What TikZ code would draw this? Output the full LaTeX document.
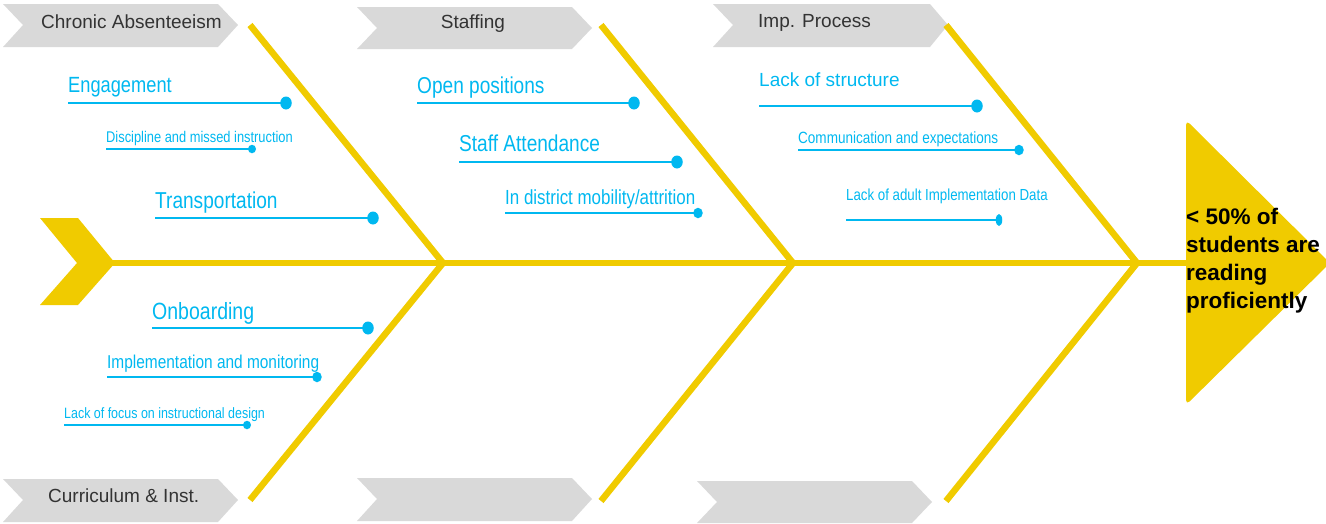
\documentclass[tikz,border=0pt]{standalone}
\usepackage{fontspec}
\setmainfont{Liberation Sans}
\newfontfamily\narrowfont{Liberation Sans}[FakeStretch=0.83]
\usetikzlibrary{shapes.geometric}

\definecolor{fishyellow}{RGB}{240,203,0}
\definecolor{boxgray}{RGB}{217,217,217}
\definecolor{labelgray}{RGB}{51,51,51}
\definecolor{causeblue}{RGB}{0,184,240}

\tikzset{
  bone/.style={draw=fishyellow, line width=6.5pt},
  catbox/.style={fill=boxgray},
  cattext/.style={text=labelgray, inner sep=0pt, font=\fontsize{19}{22}\selectfont},
  causetext/.style={text=causeblue, inner sep=0pt, anchor=base west},
  causeline/.style={draw=causeblue, line width=1.8pt},
  bigdot/.style={ellipse, fill=causeblue, inner sep=0pt, minimum width=11.5pt, minimum height=13pt},
  middot/.style={ellipse, fill=causeblue, inner sep=0pt, minimum width=9.5pt, minimum height=10.5pt},
  smalldot/.style={ellipse, fill=causeblue, inner sep=0pt, minimum width=8pt, minimum height=8.5pt},
  slimdot/.style={ellipse, fill=causeblue, inner sep=0pt, minimum width=6.5pt, minimum height=12pt},
}

\begin{document}
\begin{tikzpicture}[x=1pt,y=-1pt]
\useasboundingbox (0,0) rectangle (1326,523);

% category arrows
\fill[catbox] (3,4) -- (218,4) -- (238,25) -- (218,47) -- (3,47) -- (23,25) -- cycle;
\fill[catbox] (357,7) -- (572,7) -- (592,28) -- (572,49) -- (357,49) -- (377,28) -- cycle;
\fill[catbox] (713,4) -- (930,4) -- (948,25) -- (930,47) -- (713,47) -- (733,25) -- cycle;
\fill[catbox] (3,479) -- (218,479) -- (238,500) -- (218,522) -- (3,522) -- (23,500) -- cycle;
\fill[catbox] (357,478) -- (572,478) -- (592,499) -- (572,521) -- (357,521) -- (377,499) -- cycle;
\fill[catbox] (697,481) -- (912,481) -- (932,502) -- (912,523) -- (697,523) -- (717,502) -- cycle;

\node[cattext, anchor=base west] (cat1) at (41,28) {Chronic Absenteeism};
\node[cattext, anchor=base] (cat2) at (473,28) {Staffing};
\node[cattext, anchor=base west] (cat3) at (758,27) {Imp. Process};
\node[cattext, anchor=base west] (cat4) at (48,502) {Curriculum \& Inst.};

% tail
\fill[fishyellow] (40,218) -- (78,218) -- (115,263) -- (78,305) -- (40,305) -- (77,263) -- cycle;

% head
\fill[fishyellow, rounded corners=5pt] (1186,120) -- (1330,263) -- (1186,405) -- cycle;
\coordinate (tail) at (112,263);
\coordinate (headleft) at (1187,263);

% spine and bones
\coordinate (j1) at (443,263);
\coordinate (j2) at (793,263);
\coordinate (j3) at (1137,263);
\coordinate (t1) at (250,25);
\coordinate (t2) at (601,25);
\coordinate (t3) at (946,25);
\coordinate (b1) at (250,500);
\coordinate (b2) at (601,501);
\coordinate (b3) at (946,501);
\draw[bone] (tail) -- (headleft);
\draw[bone] (t1) -- (j1) -- (b1);
\draw[bone] (t2) -- (j2) -- (b2);
\draw[bone] (t3) -- (j3) -- (b3);

% effect text: the base anchor sits on the last line
\node[anchor=base west, inner sep=0pt, align=left, font=\bfseries\fontsize{22.5}{27.7}\selectfont] (effect) at (1186,308)
  {< 50\% of\\students are\\reading\\proficiently};

% causes: Chronic Absenteeism
\node[causetext, font=\narrowfont\fontsize{22}{24}\selectfont] (c1) at (68,92.5) {Engagement};
\node[bigdot] (d1) at (286,103) {};
\draw[causeline] (c1.west |- d1) -- (d1.center);

\node[causetext, font=\narrowfont\fontsize{15.5}{18}\selectfont] (c2) at (106,142) {Discipline and missed instruction};
\node[smalldot] (d2) at (252,149) {};
\draw[causeline] (c2.west |- d2) -- (d2.center);

\node[causetext, font=\narrowfont\fontsize{23}{25}\selectfont] (c3) at (155,208) {Transportation};
\node[bigdot] (d3) at (373,218) {};
\draw[causeline] (c3.west |- d3) -- (d3.center);

% causes: Staffing
\node[causetext, font=\narrowfont\fontsize{23}{25}\selectfont] (c4) at (417,93) {Open positions};
\node[bigdot] (d4) at (634,103) {};
\draw[causeline] (c4.west |- d4) -- (d4.center);

\node[causetext, font=\narrowfont\fontsize{23}{25}\selectfont] (c5) at (459,151) {Staff Attendance};
\node[bigdot] (d5) at (677,162) {};
\draw[causeline] (c5.west |- d5) -- (d5.center);

\node[causetext, font=\narrowfont\fontsize{20.4}{23}\selectfont] (c6) at (505,204) {In district mobility/attrition};
\node[middot] (d6) at (698,213) {};
\draw[causeline] (c6.west |- d6) -- (d6.center);

% causes: Imp. Process
\node[causetext, font=\fontsize{19}{22}\selectfont] (c7) at (759,86.5) {Lack of structure};
\node[bigdot] (d7) at (977,106) {};
\draw[causeline] (c7.west |- d7) -- (d7.center);

\node[causetext, font=\narrowfont\fontsize{16.3}{19}\selectfont] (c8) at (798,143.5) {Communication and expectations};
\node[middot] (d8) at (1019,150) {};
\draw[causeline] (c8.west |- d8) -- (d8.center);

\node[causetext, font=\narrowfont\fontsize{16}{19}\selectfont] (c9) at (846,200.5) {Lack of adult Implementation Data};
\node[slimdot] (d9) at (999,220) {};
\draw[causeline] (c9.west |- d9) -- (d9.center);

% causes: Curriculum & Inst.
\node[causetext, font=\narrowfont\fontsize{23.5}{26}\selectfont] (c10) at (152,319) {Onboarding};
\node[bigdot] (d10) at (368,328) {};
\draw[causeline] (c10.west |- d10) -- (d10.center);

\node[causetext, font=\narrowfont\fontsize{18.6}{21}\selectfont] (c11) at (107,368) {Implementation and monitoring};
\node[middot] (d11) at (317,377) {};
\draw[causeline] (c11.west |- d11) -- (d11.center);

\node[causetext, font=\narrowfont\fontsize{15}{18}\selectfont] (c12) at (64,418) {Lack of focus on instructional design};
\node[smalldot] (d12) at (247,425) {};
\draw[causeline] (c12.west |- d12) -- (d12.center);
\end{tikzpicture}
\end{document}
